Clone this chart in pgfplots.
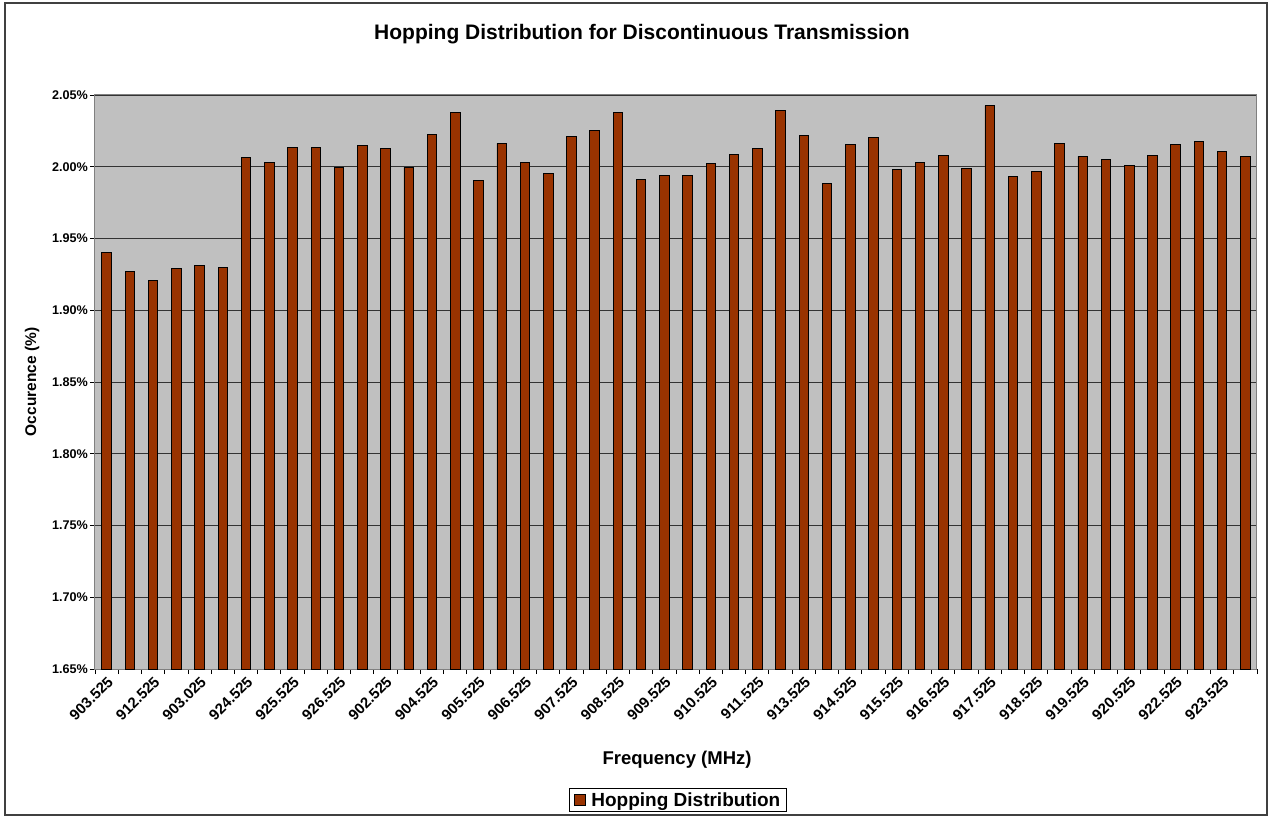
\documentclass[border=0pt]{standalone}
\usepackage{fontspec}
\setmainfont{Liberation Sans}
\usepackage{pgfplots}
\pgfplotsset{compat=1.18}
\definecolor{barfill}{HTML}{993300}
\definecolor{plotbg}{HTML}{C0C0C0}
\begin{document}
\begin{tikzpicture}
\path[use as bounding box] (-95pt,-150pt) rectangle (1177pt,669pt);
\draw[line width=1.3pt, black!75] (-90pt,-146pt) rectangle (1172pt,666pt);
\begin{axis}[
  scale only axis,
  width=1162pt, height=574pt,
  xmin=-0.5, xmax=49.5,
  ymin=1.65, ymax=2.05,
  axis background/.style={fill=plotbg},
  axis line style={draw=black!50, line width=1pt},
  ybar, bar width=9.5pt,
  ymajorgrids,
  grid style={black!80, line width=0.9pt},
  tick pos=left,
  tick align=outside,
  major tick length=5pt,
  minor tick length=5pt,
  ytick={1.65,1.70,...,2.051},
  yticklabel={\pgfmathprintnumber[fixed,fixed zerofill,precision=2]{\tick}\%},
  /pgf/number format/assume math mode=true,
  yticklabel style={font=\fontsize{12.6}{14}\selectfont\bfseries, inner sep=2pt},
  xtick={0,2,...,48},
  xticklabels={903.525,912.525,903.025,924.525,925.525,926.525,902.525,904.525,905.525,906.525,907.525,908.525,909.525,910.525,911.525,913.525,914.525,915.525,916.525,917.525,918.525,919.525,920.525,922.525,923.525},
  xticklabel style={font=\fontsize{15}{17}\selectfont\bfseries, rotate=45, anchor=north east, inner sep=1pt},
  major x tick style={draw=none},
  minor xtick={-0.5,0.5,...,49.6},
  minor x tick style={draw=black, line width=0.9pt},
  major y tick style={draw=black, line width=0.9pt},
  xlabel={Frequency (MHz)},
  xlabel style={at={(axis description cs:0.5009,-0.1585)}, anchor=center, font=\fontsize{18.5}{21}\selectfont\bfseries},
  ylabel={Occurence (\%)},
  ylabel style={at={(axis description cs:-0.0542,0.5)}, anchor=center, rotate=0, font=\fontsize{15.5}{18}\selectfont\bfseries},
  title={Hopping Distribution for Discontinuous Transmission},
  title style={at={(axis description cs:0.4707,1.0958)}, anchor=center, font=\fontsize{21}{24}\selectfont\bfseries},
  legend style={at={(axis description cs:0.5017,-0.2282)}, anchor=center, draw=black, line width=0.8pt,
    font=\fontsize{19}{22}\selectfont\bfseries, inner xsep=4pt, inner ysep=2pt},
  legend image code/.code={\draw[fill=barfill, draw=black, line width=0.8pt] (0pt,-5.5pt) rectangle (11pt,5.5pt); \path (15pt,0pt);},
]
\addplot[fill=barfill, draw=black, line width=0.8pt] coordinates {
(0,1.940) (1,1.927) (2,1.921) (3,1.929) (4,1.931) (5,1.930)
(6,2.0065) (7,2.003) (8,2.0135) (9,2.0135) (10,1.9995) (11,2.0149)
(12,2.0128) (13,1.9995) (14,2.0226) (15,2.0377) (16,1.9907) (17,2.0163)
(18,2.003) (19,1.9953) (20,2.021) (21,2.0254) (22,2.0377) (23,1.9914)
(24,1.994) (25,1.994) (26,2.0023) (27,2.0086) (28,2.0128) (29,2.0391)
(30,2.0217) (31,1.9884) (32,2.0155) (33,2.0205) (34,1.9981) (35,2.0033)
(36,2.0079) (37,1.9991) (38,2.0426) (39,1.9935) (40,1.997) (41,2.0165)
(42,2.0072) (43,2.0051) (44,2.0009) (45,2.0079) (46,2.0156) (47,2.0177)
(48,2.0109) (49,2.0072)
};
\addlegendentry{Hopping Distribution}
\end{axis}
\end{tikzpicture}
\end{document}
